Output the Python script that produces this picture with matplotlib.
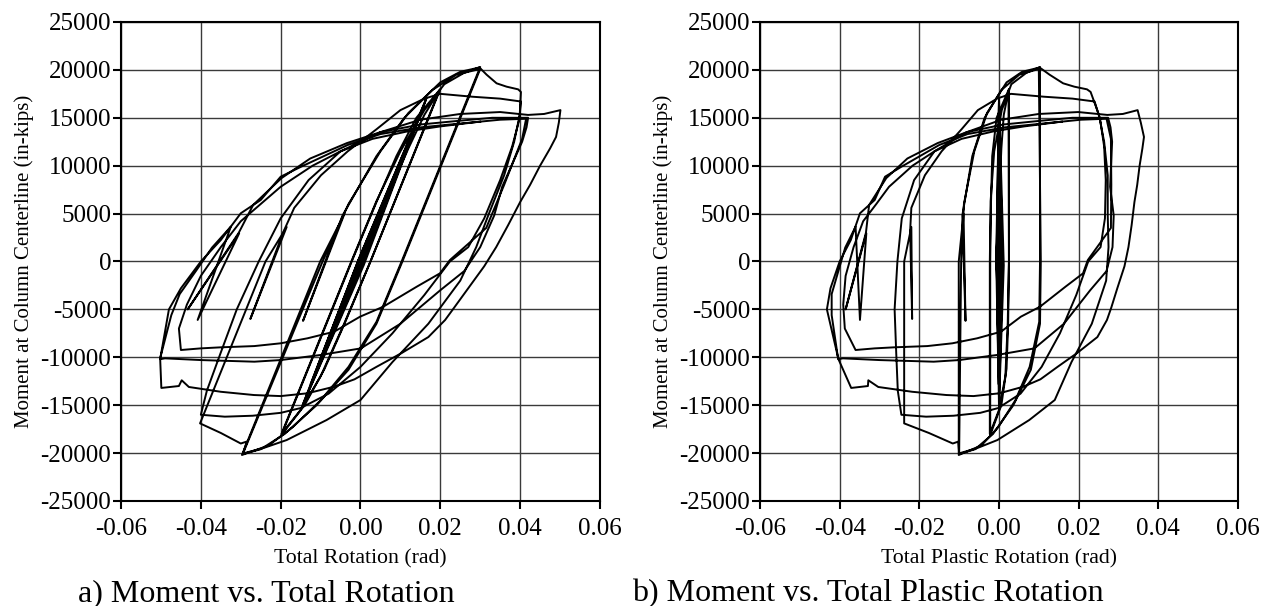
import matplotlib
matplotlib.use("Agg")
import matplotlib.pyplot as plt

plt.rcParams['font.family'] = ['Liberation Serif', 'DejaVu Serif']
plt.rcParams['axes.unicode_minus'] = False

# moment at column centerline (in-kips), shared by both panels
moment = [
    0, 4100, -100, -4200, 100, 6200, -150, -6300, 150, 8300, -200, -8400, 200,
    10800, -250, -10700, 250, 13300, -300, -12800, 300, 17000, -400, -15100, 400,
    16800, -300, -15000,
    0, 8000, 11800, 15300, 18000, 0, -6500, -11200, -15000, -18100,
    0, 6200, 11000, 15000, 17900, 0, -6400, -12000, -15500, -18000,
    0, 6300, 11500, 15800, 18500, 19700, 20300, 0, -6300, -11000, -14500, -17300, -19200, -20200,
    0, 5000, -6200, 4800, 11000, 15000, 17900, 19500, 20100,
    0, -6500, -11300, -15000, -18000, -19600, -20100,
    0, 6000, 11500, 15500, 18700, 19800, 20250, 19500, 18600, 18250, 17970, 17700,
    15300, 12500, 9000, 4800, 1500, -2000, -6500, -10500, -14460, -16550, -18640, -19500,
    -20030, -18800, -19000, -17900, -16900,
    0, 3600, -6000, 3200, 5600, 9000, 11500, 13800, 15800, 17000, 17500, 17200, 17000, 16700,
    14800, 12000, 8500, 4500, 1500, 0, -3500, -7500, -11000, -13800, -15300, -15800,
    -16100, -16200, -16000,
    -13500, -9500, -5000, 0, 4500, 8500, 11500, 13500, 14800, 15400, 15600, 15300, 15400, 15800,
    14500, 13000, 11800, 10000, 8000, 6200, 3800, 1500, -500, -2800, -4800, -6110, -7890, -9560,
    -11000, -12300, -13070, -13760, -14050,
    -13940, -13600, -13100, -12400, -13000, -13200, -10100,
    -5600, -3400, -970, 1450, 3630, -6100, 2940, -5000, 3000, 5900, 8700, 10750, 12360,
    13500, 14300, 14700, 15000, 15000,
    14000, 12500, 7800, 4800, 1500, -1000, -3000, -6500, -9070, -9760, -10290, -10460,
    -10290, -10110, -10200,
    -5000, -2800, 0, 2240, 5030, 6420, 8850, 9890, 12160, 13300, 14000, 14400, 14800, 14900,
    12800, 8000, 3500, 150, -1240, -2630, -4720, -5760, -7330, -8020, -8540, -8830, -8960,
    -9070, -9240,
    -7000, -4500, -1500, 1500, 4200, 6000, 7800, 10000, 11500, 12800, 13600, 14100, 14600,
]

# total rotation (rad), panel a
total_rotation = [
    0, 0.004, 0.0003, -0.004, -0.0003, 0.006, 0.0003, -0.006, -0.0003, 0.008, 0.0004, -0.008, -0.0004,
    0.0105, 0.0005, -0.0105, -0.0004, 0.013, 0.0006, -0.0125, -0.0004, 0.0165, 0.0008, -0.0146, -0.0002,
    0.0163, 0.0006, -0.0145,
    0.0002, 0.008, 0.012, 0.016, 0.020, 0.0025, -0.004, -0.009, -0.014, -0.0198,
    -0.0022, 0.004, 0.009, 0.014, 0.0198, 0.0025, -0.004, -0.010, -0.015, -0.0198,
    -0.0023, 0.004, 0.010, 0.016, 0.021, 0.026, 0.030, 0.0103, 0.004, -0.003, -0.010, -0.017, -0.023, -0.0297,
    -0.0101, -0.004, -0.0144, -0.0045, 0.004, 0.011, 0.018, 0.024, 0.030,
    0.0105, 0.004, -0.003, -0.011, -0.019, -0.025, -0.0295,
    -0.0095, -0.003, 0.005, 0.012, 0.020, 0.025, 0.0298, 0.0316, 0.0341, 0.0366, 0.0395, 0.0402,
    0.0399, 0.0385, 0.036, 0.032, 0.029, 0.025, 0.017, 0.008, 0.0, -0.0085, -0.0185, -0.0245,
    -0.0294, -0.0285, -0.030, -0.035, -0.0402,
    -0.0238, -0.0185, -0.0276, -0.0192, -0.0166, -0.0099, -0.0032, 0.004, 0.010, 0.016, 0.020, 0.028, 0.035, 0.0402,
    0.0398, 0.038, 0.035, 0.031, 0.027, 0.0224, 0.016, 0.008, 0.0, -0.008, -0.015, -0.020,
    -0.027, -0.034, -0.040,
    -0.0385, -0.035, -0.031, -0.0255, -0.020, -0.013, -0.005, 0.005, 0.015, 0.025, 0.035, 0.042, 0.046, 0.0501,
    0.0497, 0.049, 0.0475, 0.045, 0.0425, 0.040, 0.037, 0.034, 0.031, 0.027, 0.0235, 0.0212, 0.017, 0.0103,
    0.004, -0.0015, -0.0066, -0.0133, -0.020,
    -0.0267, -0.035, -0.043, -0.0448, -0.0455, -0.0499, -0.0502,
    -0.0474, -0.0453, -0.0412, -0.0372, -0.0325, -0.0408, -0.0304, -0.0433, -0.0305, -0.0269, -0.0198, -0.0126, -0.0034,
    0.005, 0.015, 0.025, 0.033, 0.042,
    0.0416, 0.0405, 0.0355, 0.0335, 0.030, 0.026, 0.02, 0.01, 0.0001, -0.010, -0.020, -0.0266,
    -0.040, -0.049, -0.0502,
    -0.048, -0.045, -0.040, -0.035, -0.030, -0.025, -0.020, -0.0149, -0.0032, 0.005, 0.015, 0.025, 0.035, 0.0415,
    0.0405, 0.036, 0.0315, 0.0224, 0.0199, 0.0141, 0.0057, -0.0001, -0.0066, -0.0133, -0.020, -0.0266, -0.035,
    -0.040, -0.045,
    -0.0455, -0.0435, -0.040, -0.035, -0.030, -0.025, -0.020, -0.012, -0.005, 0.003, 0.012, 0.02, 0.03,
]

# total plastic rotation (rad), panel b
plastic_rotation = [
    0, 0.0, 0.0004, 0.0001, -0.0004, 0.0, 0.0004, 0.0001, -0.0004, 0.0, 0.0006, 0.0001, -0.0006,
    0.0, 0.0007, -0.0001, -0.0006, 0.0001, 0.0009, -0.0001, -0.0007, 0.0, 0.0012, 0.0, -0.0006,
    0.0, 0.0009, 0.0,
    0.0002, 0.0002, 0.0006, 0.0012, 0.0025, 0.0025, 0.0023, 0.0019, 0.0006, -0.0022,
    -0.0022, -0.0020, -0.0017, -0.0006, 0.0024, 0.0025, 0.0022, 0.0016, 0.0, -0.0023,
    -0.0023, -0.0021, -0.0012, 0.0007, 0.0031, 0.0069, 0.0103, 0.0103, 0.0101, 0.0077, 0.0041, -0.0002, -0.0044, -0.0101,
    -0.0101, -0.0089, -0.0084, -0.0092, -0.0067, -0.0036, 0.0006, 0.0051, 0.0100,
    0.0105, 0.0103, 0.0080, 0.0036, -0.0015, -0.0060, -0.0100,
    -0.0095, -0.0088, -0.0062, -0.0030, 0.0019, 0.0058, 0.0102, 0.0127, 0.0161, 0.0189, 0.0221, 0.0230,
    0.0251, 0.0264, 0.0273, 0.0273, 0.0275, 0.0269, 0.0233, 0.0182, 0.0140, 0.0076, -0.0004, -0.0056,
    -0.0100, -0.0102, -0.0116, -0.0176, -0.0238,
    -0.0238, -0.0220, -0.0218, -0.0223, -0.0220, -0.0186, -0.0144, -0.0094, -0.0053, -0.0005, 0.0030, 0.0113, 0.0185, 0.0240,
    0.0254, 0.0264, 0.0268, 0.0266, 0.0255, 0.0224, 0.0194, 0.0153, 0.0107, 0.0054, -0.0002, -0.0047,
    -0.0114, -0.0183, -0.0245,
    -0.0254, -0.0258, -0.0262, -0.0255, -0.0244, -0.0213, -0.0162, -0.0081, 0.0006, 0.0100, 0.0199, 0.0272, 0.0311, 0.0348,
    0.0356, 0.0364, 0.0360, 0.0353, 0.0347, 0.0340, 0.0333, 0.0325, 0.0315, 0.0297, 0.0282, 0.0271, 0.0247, 0.0196,
    0.0147, 0.0104, 0.0061, 0.0001, -0.0064,
    -0.0132, -0.0218, -0.0303, -0.0328, -0.0329, -0.0371, -0.0404,
    -0.0420, -0.0420, -0.0403, -0.0386, -0.0360, -0.0349, -0.0333, -0.0385, -0.0334, -0.0326, -0.0283, -0.0230, -0.0154,
    -0.0081, 0.0011, 0.0107, 0.0184, 0.0274,
    0.0280, 0.0284, 0.0279, 0.0288, 0.0285, 0.0270, 0.0229, 0.0163, 0.0089, -0.0005, -0.0100, -0.0164,
    -0.0300, -0.0392, -0.0403,
    -0.0432, -0.0423, -0.0400, -0.0372, -0.0349, -0.0312, -0.0286, -0.0245, -0.0150, -0.0079, 0.0014, 0.0110, 0.0206, 0.0270,
    0.0281, 0.0282, 0.0281, 0.0223, 0.0211, 0.0167, 0.0103, 0.0055, 0.0005, -0.0055, -0.0117, -0.0180, -0.0263,
    -0.0312, -0.0360,
    -0.0387, -0.0391, -0.0385, -0.0365, -0.0341, -0.0308, -0.0276, -0.0217, -0.0162, -0.0094, -0.0012, 0.0063, 0.0158,
]

x_ticks = [-0.06, -0.04, -0.02, 0.00, 0.02, 0.04, 0.06]
y_ticks = [-25000, -20000, -15000, -10000, -5000, 0, 5000, 10000, 15000, 20000, 25000]

panels = [
    ([0.0953, 0.1733, 0.3771, 0.7904], total_rotation, 'Total Rotation (rad)',
     'a) Moment vs. Total Rotation', 0.0614),
    ([0.5984, 0.1733, 0.3764, 0.7904], plastic_rotation, 'Total Plastic Rotation (rad)',
     'b) Moment vs. Total Plastic Rotation', 0.4976),
]

fig = plt.figure(figsize=(12.7, 6.06), dpi=100)

for rect, rotation, xlabel, caption, cap_x in panels:
    ax = fig.add_axes(rect)
    ax.plot(rotation, moment, color='black', lw=1.4, solid_joinstyle='round', zorder=3)
    ax.set_xlim(-0.06, 0.06)
    ax.set_ylim(-25000, 25000)
    ax.set_xticks(x_ticks)
    ax.set_yticks(y_ticks)
    ax.set_xticklabels(['%.2f' % t for t in x_ticks])
    ax.set_yticklabels(['%d' % t for t in y_ticks])
    ax.grid(True, color='#3a3a3a', lw=1.0)
    ax.set_axisbelow(True)
    for s in ax.spines.values():
        s.set_linewidth(1.5)
    ax.tick_params(direction='out', length=6, width=1.5, labelsize=18, pad=1,
                   top=False, right=False)
    ax.tick_params(axis='x', pad=6)
    ax.set_xlabel(xlabel, fontsize=15.7, labelpad=7)
    ax.set_ylabel('Moment at Column Centerline (in-kips)', fontsize=15, labelpad=5)
    fig.text(cap_x, 0.008, caption, fontsize=23, ha='left', va='baseline')

plt.savefig('out.png', dpi=100)
